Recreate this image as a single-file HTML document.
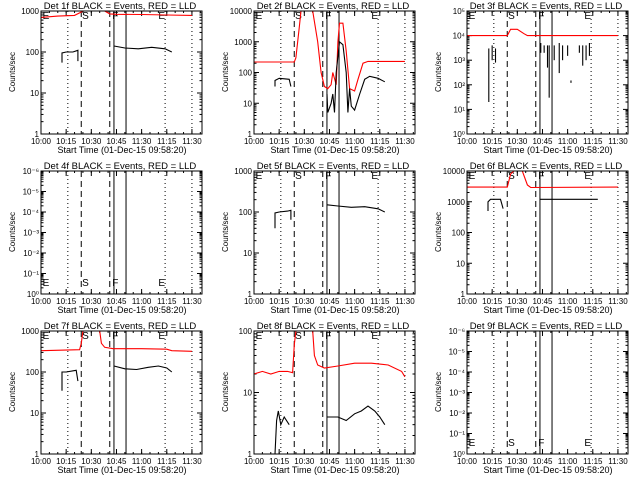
<!DOCTYPE html>
<html><head><meta charset="utf-8"><style>
html,body{margin:0;padding:0;background:#fff;}
svg text{font-family:"Liberation Sans",sans-serif;}
</style></head><body>
<svg id="chart" width="640" height="480" viewBox="0 0 640 480" xmlns="http://www.w3.org/2000/svg">
<rect x="0" y="0" width="640" height="480" fill="#fff"/>
</svg>
<script>
// ---- data ----
const tickMinutes = [0, 15, 30, 45, 60, 75, 90];
const tickLabelsA = ["10:00","10:15","10:30","10:45","11:30","11:15","11:30"];
const tickLabelsB = ["10:00","10:15","10:30","10:45","11:00","11:15","11:30"];
const dottedLines = [16, 74, 90];
const dashedLines = [24, 41];
const solidLines = [43.5, 50.7];
const markerLetters = ["E","S","F","E"];
const markerMinutes = [1, 24.5, 42.5, 70];
const titles = ["Det 1f","Det 2f","Det 3f","Det 4f","Det 5f","Det 6f","Det 7f","Det 8f","Det 9f"];
const yMaxExp = [3,4,5,6,3,4,3,2,6];
const lowLabels = ["10⁰","10⁻¹","10⁻²","10⁻³","10⁻⁴","10⁻⁵","10⁻⁶"];

const red1 = [[0,700],[10,750],[20,780],[23,900],[25,1000],[38,1000],[41,850],[45,830],[60,820],[75,800],[90,780]];
const black1 = [[12.5,55],[12.5,95],[15,100],[19,100],[22,110],[22,60],null,[43.5,140],[50,125],[58,120],[66,130],[74,120],[78,100]];
const red2 = [[0,220],[24,220],[25,300],[27,3000],[28,10000],[35,10000],[38,1000],[40,100],[42,35],[44,30],[46,40],[47,100],[49,40],[50,1000],[51,4000],[53,4000],[55,500],[57,30],[60,25],[62,60],[65,200],[68,230],[90,230]];
const black2 = [[12.5,35],[12.5,55],[15,65],[21,60],[22,35],null,[43.5,20],[44,5],[46,10],[47,20],[48,5],[49,100],[51,1000],[53,800],[55,100],[56,5],[57,30],[58,8],[60,6],[63,20],[66,60],[69,75],[74,65],[78,50]];
const red3 = [[0,10000],[24,10000],[26,18000],[30,18000],[34,12000],[36,10000],[90,10000]];
const spikes3 = [[13,3000,20],[15,4000,1000],[17,3000,800],[44,5000,2000],[46,4000,2000],[48,4000,500],[49,4000,30],[52,4000,1000],[55,5000,300],[57,4000,1000],[60,4000,1500],[62,150,120],[67,4000,2000],[69,4000,600],[71,4000,1000],[73,5000,1500]];
const black5 = [[12.5,40],[12.5,95],[15,100],[20,105],[22,110],[22,65],null,[43.5,150],[50,140],[58,130],[66,135],[74,120],[78,100]];
const red6 = [[0,3000],[24,3000],[26,8000],[28,10000],[33,10000],[36,3500],[38,2900],[90,3000]];
const black6 = [[12.5,500],[12.5,1000],[14,1200],[20,1200],[21.5,600],null,[43.5,1200],[78,1200]];
const red7 = [[0,330],[23,350],[24,500],[25,1000],null,[35,1000],[36,500],[38,400],[43,370],[60,370],[75,360],[78,330],[90,320]];
const black7 = [[12.5,35],[12.5,100],[15,100],[21,110],[22,60],null,[43.5,140],[50,120],[57,115],[64,130],[70,140],[75,125],[78,100]];
const red8 = [[0,20],[5,22],[10,20],[15,22],[20,22],[23,21],[24,60],[25,100],null,[35,100],[36,40],[38,28],[42,25],[50,27],[60,30],[70,30],[80,28],[88,22],[90,18]];
const black8 = [[12.5,1],[13.5,3.5],[14.5,5],[16,3],[18,4],[21,3],null,[43.5,4],[50,4],[55,3.5],[60,4.5],[64,5],[68,6],[72,5],[75,4],[78,3]];

const redSeries = [red1, red2, red3, null, null, red6, red7, red8, null];
const blackSeries = [black1, black2, null, null, black5, black6, black7, black8, null];

// ---- drawing ----
const svg = document.getElementById('chart');
const NS = 'http://www.w3.org/2000/svg';
function mk(tag, attrs, parent){
  const e = document.createElementNS(NS, tag);
  for (const k in attrs) e.setAttribute(k, attrs[k]);
  (parent||svg).appendChild(e);
  return e;
}
const L = 41, R = 202, T = 11, B = 134, XMAX = 96;
for (let p = 0; p < 9; p++) {
  const ox = 213 * (p % 3), oy = 160 * Math.floor(p / 3);
  const g = mk('g', {});
  
  
  const xs = m => ox + L + (R - L) * m / XMAX;
  const emax = yMaxExp[p];
  const ys = v => oy + B - (B - T) * Math.log10(v) / emax;
  const t = mk('text', {x: ox + 120, y: oy + 9, 'font-size': 9.5, 'text-anchor': 'middle'}, g);
  t.textContent = titles[p] + ' BLACK = Events, RED = LLD';
  
  
  const yl = mk('text', {x: ox + 15, y: oy + 72, 'font-size': 8, 'text-anchor': 'middle', transform: `rotate(-90 ${ox + 15} ${oy + 72})`}, g);
  yl.textContent = 'Counts/sec';
  
  
  const xl = mk('text', {x: ox + 122, y: oy + 153, 'font-size': 9, 'text-anchor': 'middle'}, g);
  xl.textContent = 'Start Time (01-Dec-15 09:58:20)';
  
  
  const labs = p === 0 ? tickLabelsA : tickLabelsB;
  tickMinutes.forEach((m, i) => {
    const x = xs(m);
    mk('line', {x1: x, x2: x, y1: oy + B, y2: oy + B - 5, stroke: '#000'}, g);
    mk('line', {x1: x, x2: x, y1: oy + T, y2: oy + T + 5, stroke: '#000'}, g);
    const tl = mk('text', {x: x, y: oy + 144, 'font-size': 8, 'text-anchor': 'middle'}, g);
    tl.textContent = labs[i];
    
    
  });
  for (let m = 5; m < XMAX; m += 5) {
    const x = xs(m);
    mk('line', {x1: x, x2: x, y1: oy + B, y2: oy + B - 2, stroke: '#000'}, g);
    mk('line', {x1: x, x2: x, y1: oy + T, y2: oy + T + 2, stroke: '#000'}, g);
  }
  const lowAxis = (p === 3 || p === 8);
  for (let e = 0; e <= emax; e++) {
    const y = ys(Math.pow(10, e));
    mk('line', {x1: ox + L, x2: ox + L + 5, y1: y, y2: y, stroke: '#000'}, g);
    mk('line', {x1: ox + R, x2: ox + R - 5, y1: y, y2: y, stroke: '#000'}, g);
    const yt = mk('text', {x: ox + L - 2, y: y + 3, 'font-size': 8, 'text-anchor': 'end'}, g);
    if (lowAxis) yt.textContent = lowLabels[e];
    else if (p === 2) yt.textContent = '10' + ['⁰','¹','²','³','⁴','⁵'][e];
    else yt.textContent = String(Math.pow(10, e));
    
    
    if (e < emax) for (let k = 2; k <= 9; k++) {
      const yy = ys(k * Math.pow(10, e));
      mk('line', {x1: ox + L, x2: ox + L + 2.5, y1: yy, y2: yy, stroke: '#000'}, g);
      mk('line', {x1: ox + R, x2: ox + R - 2.5, y1: yy, y2: yy, stroke: '#000'}, g);
    }
  }
  const cid = 'clip' + p;
  const cp = mk('clipPath', {id: cid}, g);
  mk('rect', {x: ox + L, y: oy + T, width: R - L, height: B - T}, cp);
  const inner = mk('g', {'clip-path': `url(#${cid})`}, g);
  dottedLines.forEach(m => mk('line', {x1: xs(m), x2: xs(m), y1: oy + T, y2: oy + B, stroke: '#000', 'stroke-dasharray': '1,3'}, inner));
  dashedLines.forEach(m => mk('line', {x1: xs(m), x2: xs(m), y1: oy + T, y2: oy + B, stroke: '#000', 'stroke-dasharray': '6,4'}, inner));
  solidLines.forEach(m => mk('line', {x1: xs(m), x2: xs(m), y1: oy + T, y2: oy + B, stroke: '#000'}, inner));
  markerLetters.forEach((s, i) => {
    const lt = mk('text', {x: xs(markerMinutes[i]), y: lowAxis ? oy + 126 : oy + 19, 'font-size': 10}, inner);
    lt.textContent = s;
    
    
  });
  function drawSeries(arr, color, name) {
    if (!arr) return;
    let d = '', pen = false;
    arr.forEach(pt => {
      if (!pt) { pen = false; return; }
      d += (pen ? 'L' : 'M') + xs(pt[0]).toFixed(1) + ' ' + ys(pt[1]).toFixed(1) + ' ';
      pen = true;
    });
    const path = mk('path', {d: d, fill: 'none', stroke: color, 'stroke-width': 1.1}, inner);
    
    
  }
  drawSeries(redSeries[p], '#ff0000', 'lld-series');
  drawSeries(blackSeries[p], '#000000', 'events-series');
  if (p === 2) {
    spikes3.forEach(s => {
      const sp = mk('line', {x1: xs(s[0]), x2: xs(s[0]), y1: ys(s[1]), y2: ys(s[2]), stroke: '#000', 'stroke-width': 1.1}, inner);
      
      
    });
  }
  const box = mk('rect', {x: ox + L, y: oy + T, width: R - L, height: B - T, fill: 'none', stroke: '#000'}, g);
  
  
}
</script>
</body></html>
